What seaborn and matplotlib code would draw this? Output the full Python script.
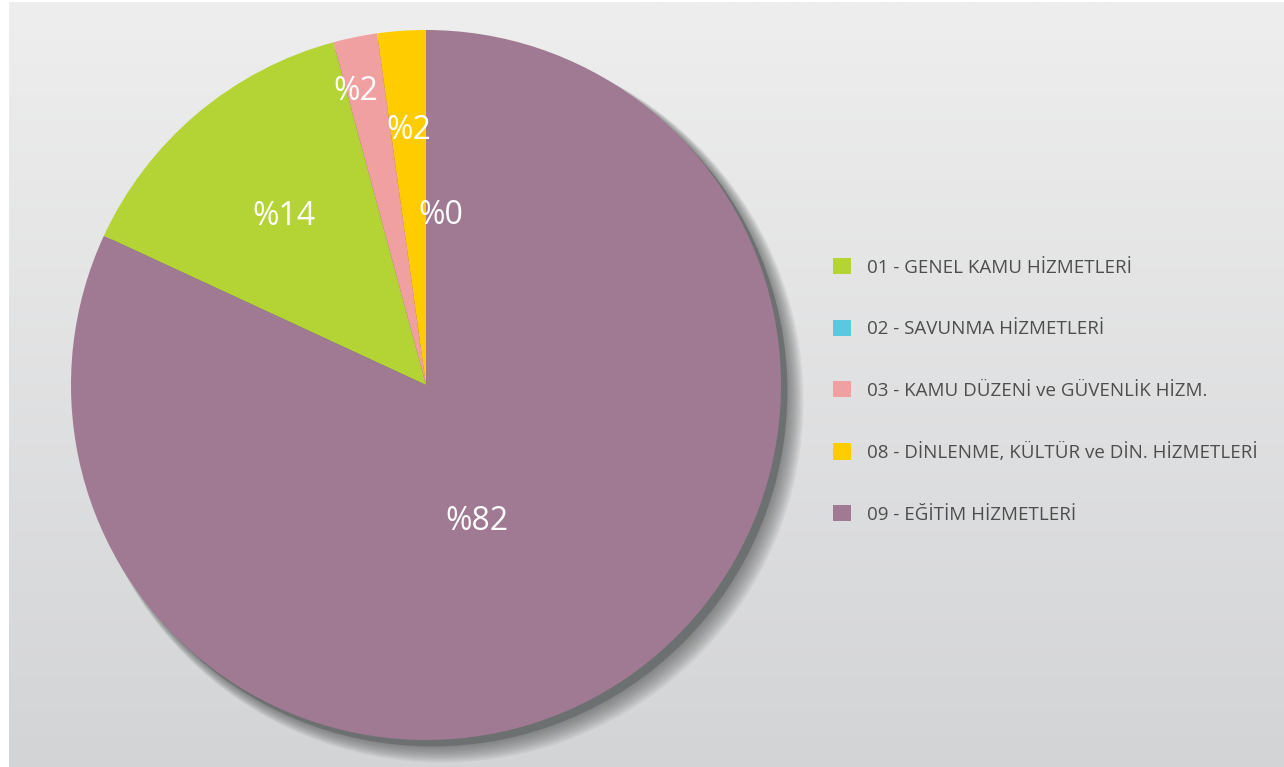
import numpy as np
import matplotlib.pyplot as plt
import seaborn as sns
from matplotlib.patches import Circle

# veri
kategoriler = ['01 - GENEL KAMU HİZMETLERİ', '02 - SAVUNMA HİZMETLERİ',
               '03 - KAMU DÜZENİ ve GÜVENLİK HİZM.',
               '08 - DİNLENME, KÜLTÜR ve DİN. HİZMETLERİ', '09 - EĞİTİM HİZMETLERİ']
oranlar = [13.9, 0.0, 2.0, 2.2, 81.9]
etiketler = ['%14', '%0', '%2', '%2', '%82']
renkler = ['#b4d334', '#5bc8e0', '#f0a0a0', '#ffcc00', '#a07a92']

sns.set_style('white')
plt.rcParams['font.family'] = ['Open Sans', 'DejaVu Sans']

fig = plt.figure(figsize=(12.84, 7.67), dpi=100)
fig.patch.set_facecolor('white')

# arka plan gradyan
bg = fig.add_axes([9 / 1284, 0, 1 - 9 / 1284, 1 - 2 / 767])
grad = np.linspace(0, 1, 256).reshape(-1, 1)
c_top = np.array([0xee, 0xee, 0xee]) / 255
c_bot = np.array([0xd3, 0xd4, 0xd6]) / 255
img = c_top + grad[..., None] * (c_bot - c_top)
bg.imshow(img, aspect='auto', extent=[0, 1, 0, 1], origin='upper')
bg.set_axis_off()

# pasta
ax = fig.add_axes([(426 - 355) / 1284, (767 - 385 - 355) / 767, 710 / 1284, 710 / 767])

# gölge
for k in range(10):
    ax.add_patch(Circle((0.02 + k * 0.0028, -0.02 - k * 0.0028), 1.0 + k * 0.002,
                        color='#4a4c4c', alpha=0.08, lw=0, zorder=0, clip_on=False))
ax.add_patch(Circle((0.018, -0.018), 1.0, color='#6d7070', lw=0, zorder=0.5,
                    clip_on=False))

start = 90 + 360 * sum(oranlar[:-1]) / sum(oranlar)
wedges, _ = ax.pie(oranlar, colors=renkler, startangle=start, counterclock=False,
                   radius=1.0, wedgeprops=dict(linewidth=0, zorder=1, clip_on=False))
ax.set_xlim(-1, 1)
ax.set_ylim(-1, 1)
ax.set_aspect('equal')
ax.set_axis_off()

# etiket konumları (yarıçap oranı, açı kayması)
konum = [(0.62, 0.0), (0.48, -20.0), (0.85, 2.0), (0.72, 0.0), (0.41, -12.0)]
for w, lab, (r, d) in zip(wedges, etiketler, konum):
    a = np.deg2rad((w.theta1 + w.theta2) / 2 + d)
    ax.text(r * np.cos(a), r * np.sin(a), lab, color='white', fontsize=23,
            ha='center', va='center', zorder=3)

leg = fig.legend(wedges, kategoriler, loc='upper left',
                 bbox_to_anchor=(833 / 1284, 1 - 258 / 767), frameon=False,
                 fontsize=13.5, handlelength=0.95, handleheight=0.95,
                 handletextpad=0.85, labelspacing=2.3, borderpad=0,
                 borderaxespad=0)
for t in leg.get_texts():
    t.set_color('#4d4d4d')

fig.savefig('out.png', dpi=100)
